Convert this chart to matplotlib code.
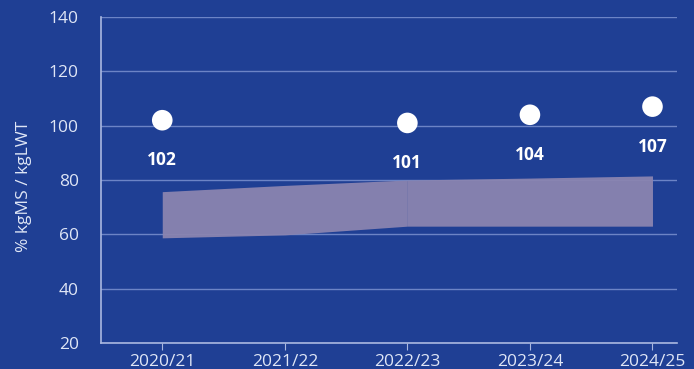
import matplotlib.pyplot as plt
import numpy as np

# seasons and milk solids ratio
seasons = ['2020/21', '2021/22', '2022/23', '2023/24', '2024/25']
ratio_x = [0, 2, 3, 4]
ratio_vals = [102, 101, 104, 107]

# target range band
band_x = [0, 1, 2, 3, 4]
band_low = [58.7, 59.8, 63.0, 63.0, 63.0]
band_high = [75.7, 78.0, 80.0, 80.7, 81.5]

bg = '#1f3f94'
light = '#dfe6f6'
grid_col = '#6c84c6'

plt.rcParams['font.family'] = ['Open Sans', 'DejaVu Sans']

fig = plt.figure(figsize=(6.94, 3.69), dpi=100, facecolor=bg)
ax = fig.add_axes([0.1455, 0.0705, 0.83, 0.8835])
ax.set_facecolor(bg)

# band drawn in two pieces
ax.fill_between(band_x[:3], band_low[:3], band_high[:3], color='#8a84b0', alpha=0.95, lw=0, zorder=2)
ax.fill_between(band_x[2:], band_low[2:], band_high[2:], color='#8a84b0', alpha=0.95, lw=0, zorder=2)

ax.scatter(ratio_x, ratio_vals, s=220, color='white', zorder=4, edgecolors='none')
for x, v in zip(ratio_x, ratio_vals):
    ax.annotate(str(v), (x, v), xytext=(0, -40), textcoords='offset pixels',
                ha='center', va='center', color='white', fontsize=12.5, fontweight='bold')

ax.set_ylim(20, 140)
ax.set_xlim(-0.5, 4.2)
ax.set_yticks(np.arange(20, 141, 20))
ax.set_xticks(range(len(seasons)))
ax.set_xticklabels(seasons)

ax.grid(axis='y', color=grid_col, lw=1)
ax.set_axisbelow(True)
for side in ['top', 'right']:
    ax.spines[side].set_visible(False)
for side in ['left', 'bottom']:
    ax.spines[side].set_color('#aab8e0')
    ax.spines[side].set_linewidth(1.2)

ax.tick_params(axis='y', length=0, colors=light, labelsize=12.5, pad=16)
ax.tick_params(axis='x', length=5, color='#aab8e0', colors=light, labelsize=12.5, pad=3)
ax.set_ylabel('% kgMS / kgLWT', color=light, fontsize=12.5)
ax.yaxis.set_label_coords(-0.12, 0.48)

fig.savefig('out.png', dpi=100, facecolor=bg)
